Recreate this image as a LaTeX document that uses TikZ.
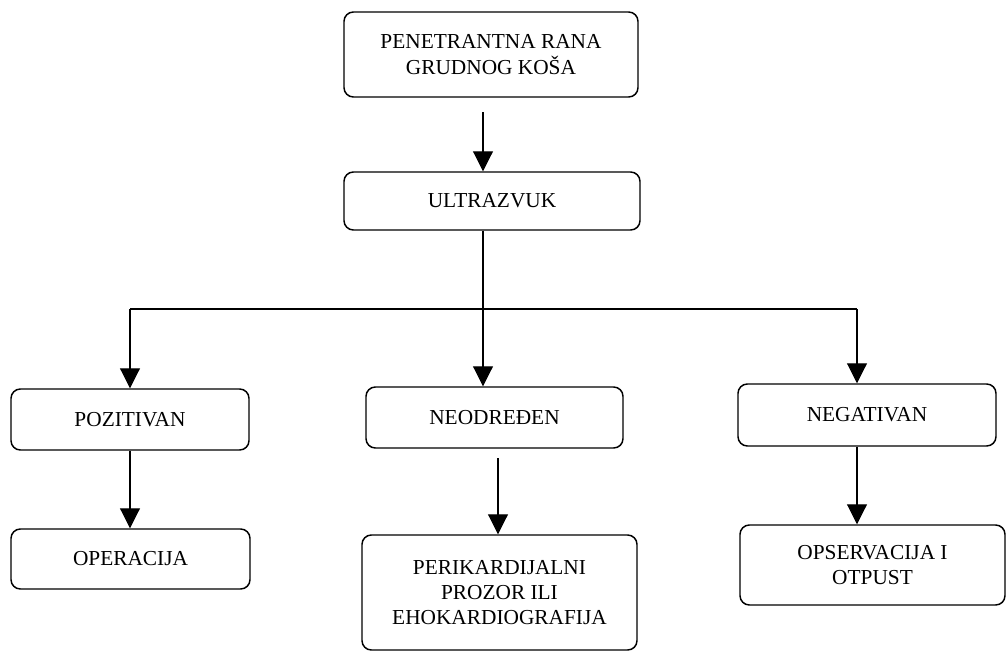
\documentclass[tikz,border=0pt]{standalone}
\usepackage{fontspec}
\setmainfont{Liberation Serif}
\usetikzlibrary{arrows.meta}

\tikzset{
  box/.style={draw, line width=1.1pt, rounded corners=7pt, align=center,
    inner sep=0pt, font=\fontsize{16}{19}\selectfont},
  arr/.style={line width=0.8pt, -{Triangle[width=15pt,length=15pt]}},
  link/.style={line width=0.8pt}
}

\begin{document}
\begin{tikzpicture}[x=0.75pt, y=-0.75pt]
    \useasboundingbox (0,0) rectangle (1007,653);

    % Boxes
    \node[box, minimum width=220.5pt, minimum height=63.75pt] (rana) at (491,54.5)
        {PENETRANTNA RANA\\GRUDNOG KOŠA};
    \node[box, minimum width=222pt, minimum height=43.5pt] (ultra) at (492,201) {ULTRAZVUK};

    \node[box, minimum width=178.5pt, minimum height=45.75pt] (poz) at (130,419.5) {POZITIVAN};
    \node[box, minimum width=192.75pt, minimum height=45.75pt] (neo) at (494.5,417.5) {NEODREĐEN};
    \node[box, minimum width=193.5pt, minimum height=46.5pt] (neg) at (867,415) {NEGATIVAN};

    \node[box, minimum width=179.25pt, minimum height=45pt] (oper) at (130.5,559) {OPERACIJA};
    \node[box, minimum width=206.25pt, minimum height=86.25pt] (peri) at (499.5,592.5)
        {PERIKARDIJALNI\\PROZOR ILI\\EHOKARDIOGRAFIJA};
    \node[box, minimum width=198.75pt, minimum height=60pt] (opser) at (872.5,565)
        {OPSERVACIJA I\\OTPUST};

    % Branch points
    \coordinate (split) at (483,309);
    \coordinate (barL) at (130,309);
    \coordinate (barR) at (857,309);
    \coordinate (midx) at (498,0);

    % Connectors
    \draw[arr, shorten <=11pt] (rana.south -| split) -- (ultra.north -| split);
    \draw[link] (ultra.south -| split) -- (split);
    \draw[link] (barL) -- (barR);
    \draw[arr] (barL) -- (barL |- poz.north);
    \draw[arr] (split) -- (split |- neo.north);
    \draw[arr] (barR) -- (barR |- neg.north);

    \draw[arr] (barL |- poz.south) -- (barL |- oper.north);
    \draw[arr, shorten <=7pt] (midx |- neo.south) -- (midx |- peri.north);
    \draw[arr] (barR |- neg.south) -- (barR |- opser.north);
\end{tikzpicture}
\end{document}
